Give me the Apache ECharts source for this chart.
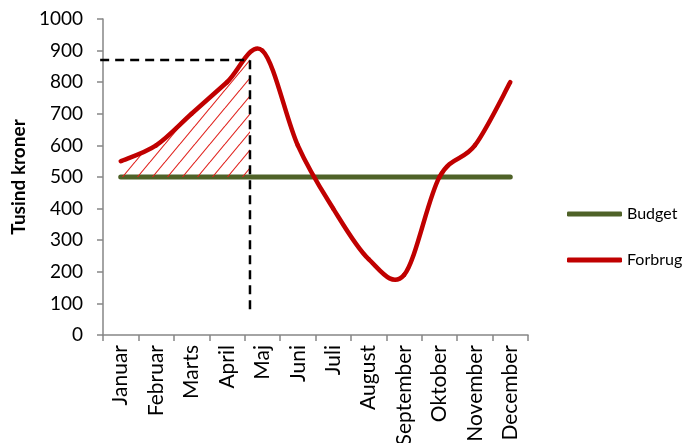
<!DOCTYPE html>
<html>
<head>
<meta charset="utf-8">
<script src="https://cdn.jsdelivr.net/npm/echarts@6/dist/echarts.min.js"></script>
<style>
  html, body { margin: 0; padding: 0; background: #ffffff; }
  #chart { width: 686px; height: 443px; }
</style>
</head>
<body>
<div id="chart"></div>
<script>
// Months on the category axis
const months = ['Januar', 'Februar', 'Marts', 'April', 'Maj', 'Juni', 'Juli',
  'August', 'September', 'Oktober', 'November', 'December'];
// Budget per month (tusind kroner)
const budget = [500, 500, 500, 500, 500, 500, 500, 500, 500, 500, 500, 500];
// Actual spending per month (tusind kroner)
const forbrug = [550, 600, 700, 800, 900, 600, 400, 240, 190, 500, 600, 800];
// Value axis ticks
const yMin = 0, yMax = 1000, yStep = 100;
// Reference marker: position in months (Januar = 0), level and lower end
const cutoffMonth = 3.65;
const cutoffLevel = 870;
const cutoffFloor = 70;
const refStart = -0.58;

const FONT = 'Lato, "Open Sans", sans-serif';
const RED = '#c00000';
const GREEN = '#4f6228';
const axisGray = '#868686';

// Diagonal hatch tile for the over-budget area
function hatchPattern() {
  const tw = 15, th = 18;
  const c = document.createElement('canvas');
  c.width = tw; c.height = th;
  const ctx = c.getContext('2d');
  ctx.strokeStyle = '#e0201c';
  ctx.lineWidth = 1.1;
  for (let k = -1; k <= 1; k++) {
    ctx.beginPath();
    ctx.moveTo(k * tw, th);
    ctx.lineTo(k * tw + tw, 0);
    ctx.stroke();
  }
  return { image: c, repeat: 'repeat' };
}
const HATCH = hatchPattern();

// Pixel position of a (possibly fractional) month index at a given value
function coordAt(api, pos, value) {
  const i0 = Math.max(0, Math.min(months.length - 2, Math.floor(pos)));
  const a = api.coord([i0, value]);
  const b = api.coord([i0 + 1, value]);
  return [a[0] + (pos - i0) * (b[0] - a[0]), a[1]];
}

// Cardinal (Catmull-Rom) Bezier segments through the spending points
function spendingSegments(api) {
  const p = forbrug.map((v, i) => api.coord([i, v]));
  const n = p.length;
  const at = (i) => p[Math.max(0, Math.min(n - 1, i))];
  const segs = [];
  for (let i = 0; i < n - 1; i++) {
    const p0 = at(i - 1), p1 = at(i), p2 = at(i + 1), p3 = at(i + 2);
    segs.push({
      x1: p1[0], y1: p1[1],
      cpx1: p1[0] + (p2[0] - p0[0]) / 6, cpy1: p1[1] + (p2[1] - p0[1]) / 6,
      cpx2: p2[0] - (p3[0] - p1[0]) / 6, cpy2: p2[1] - (p3[1] - p1[1]) / 6,
      x2: p2[0], y2: p2[1]
    });
  }
  return segs;
}

function bez(s, t) {
  const u = 1 - t;
  return [
    u * u * u * s.x1 + 3 * u * u * t * s.cpx1 + 3 * u * t * t * s.cpx2 + t * t * t * s.x2,
    u * u * u * s.y1 + 3 * u * u * t * s.cpy1 + 3 * u * t * t * s.cpy2 + t * t * t * s.y2
  ];
}

const chart = echarts.init(document.getElementById('chart'), null, { renderer: 'canvas' });

chart.setOption({
  animation: false,
  textStyle: { fontFamily: FONT },
  grid: { left: 103, top: 19, right: 158, bottom: 108, containLabel: false, outerBoundsMode: 'none' },
  legend: {
    orient: 'vertical',
    left: 567,
    top: 206,
    padding: 0,
    itemWidth: 55,
    itemHeight: 5,
    itemGap: 30,
    icon: 'roundRect',
    textStyle: { fontFamily: FONT, fontSize: 16, color: '#000' },
    data: ['Budget', 'Forbrug']
  },
  xAxis: {
    type: 'category',
    data: months,
    boundaryGap: true,
    axisLine: { lineStyle: { color: axisGray, width: 1.5 } },
    axisTick: { show: true, length: 6, lineStyle: { color: axisGray, width: 1.5 } },
    axisLabel: { rotate: 90, margin: 10, fontSize: 21, color: '#000', fontFamily: FONT, interval: 0 },
    splitLine: { show: false }
  },
  yAxis: {
    type: 'value',
    min: yMin,
    max: yMax,
    interval: yStep,
    name: 'Tusind kroner',
    nameLocation: 'middle',
    nameRotate: 90,
    nameGap: 59,
    nameTextStyle: { fontFamily: FONT, fontSize: 19, fontWeight: 'bold', color: '#000' },
    axisLine: { show: true, lineStyle: { color: axisGray, width: 1.5 } },
    axisTick: { show: true, length: 6, lineStyle: { color: axisGray, width: 1.5 } },
    axisLabel: { margin: 20, fontSize: 19, color: '#000', fontFamily: FONT, formatter: (v) => String(v) },
    splitLine: { show: false }
  },
  series: [
    {
      name: 'Budget',
      type: 'line',
      data: budget,
      symbol: 'none',
      color: GREEN,
      lineStyle: { color: GREEN, width: 5, cap: 'round' },
      z: 2
    },
    {
      // Hatched area between budget and spending up to the reference month
      name: 'Overforbrug',
      type: 'custom',
      data: [0],
      silent: true,
      z: 3,
      renderItem: function (params, api) {
        const segs = spendingSegments(api);
        const xCut = coordAt(api, cutoffMonth, budget[0])[0];
        const pts = [];
        for (const s of segs) {
          if (s.x1 >= xCut) break;
          const steps = 40;
          for (let k = 0; k <= steps; k++) {
            const q = bez(s, k / steps);
            if (q[0] > xCut) {
              // bisect for the exact cut point on this segment
              let lo = (k - 1) / steps, hi = k / steps;
              for (let it = 0; it < 30; it++) {
                const mid = (lo + hi) / 2;
                if (bez(s, mid)[0] > xCut) hi = mid; else lo = mid;
              }
              pts.push(bez(s, lo));
              break;
            }
            pts.push(q);
          }
        }
        const yBase = api.coord([0, budget[0]])[1];
        pts.push([pts[pts.length - 1][0], yBase]);
        pts.push([pts[0][0], yBase]);
        return {
          type: 'polygon',
          shape: { points: pts },
          style: { fill: HATCH, stroke: null }
        };
      }
    },
    {
      name: 'Forbrug',
      type: 'custom',
      data: forbrug.slice(0, forbrug.length - 1),
      itemStyle: { color: RED },
      z: 4,
      renderItem: function (params, api) {
        const s = spendingSegments(api)[params.dataIndex];
        return {
          type: 'bezierCurve',
          shape: s,
          style: { stroke: RED, lineWidth: 4.5, fill: null, lineCap: 'round' }
        };
      }
    },
    {
      // Dashed reference lines to the cut-off month
      name: 'Reference',
      type: 'custom',
      data: [0],
      silent: true,
      z: 5,
      renderItem: function (params, api) {
        return {
          type: 'polyline',
          shape: {
            points: [
              coordAt(api, refStart, cutoffLevel),
              coordAt(api, cutoffMonth, cutoffLevel),
              coordAt(api, cutoffMonth, cutoffFloor)
            ]
          },
          style: { stroke: '#000', lineWidth: 2.5, lineDash: [9, 6], fill: null }
        };
      }
    }
  ]
});
</script>
</body>
</html>
